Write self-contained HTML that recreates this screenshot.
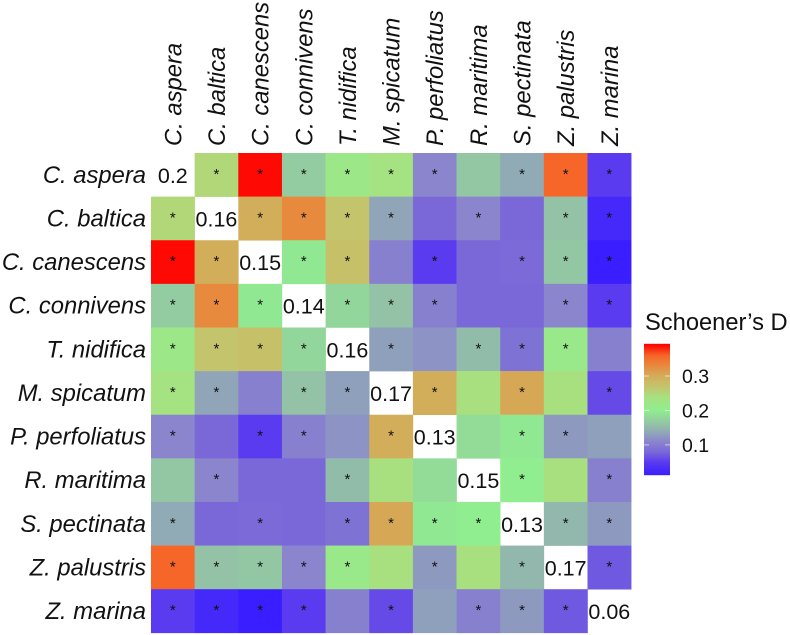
<!DOCTYPE html>
<html>
<head>
<meta charset="utf-8">
<style>
html,body{margin:0;padding:0;background:#fff;width:790px;height:635px;overflow:hidden}
svg{display:block}
text{font-family:"Liberation Sans",sans-serif;fill:#111}
</style>
</head>
<body>
<svg id="chart" width="790" height="635" viewBox="0 0 790 635" xmlns="http://www.w3.org/2000/svg">
<g id="cells"></g>
<g id="stars"></g>
<g id="diag"></g>
<g id="xlabels"></g>
<g id="ylabels"></g>
<text x="645" y="330" font-size="23.7">Schoener’s D</text>
<g id="legend"></g>
</svg>
<script>
const species = ["C. aspera","C. baltica","C. canescens","C. connivens","T. nidifica","M. spicatum","P. perfoliatus","R. maritima","S. pectinata","Z. palustris","Z. marina"];
const overlap = [
[0.2,0.25,0.39,0.17,0.22,0.235,0.11,0.165,0.14,0.36,0.05],
[0.25,0.16,0.30,0.33,0.27,0.135,0.08,0.11,0.08,0.16,0.025],
[0.39,0.30,0.15,0.195,0.275,0.105,0.05,0.08,0.082,0.165,0.0125],
[0.17,0.33,0.195,0.14,0.18,0.16,0.105,0.08,0.08,0.11,0.05],
[0.22,0.27,0.275,0.18,0.16,0.13,0.12,0.155,0.09,0.215,0.105],
[0.235,0.135,0.105,0.16,0.13,0.17,0.30,0.24,0.305,0.24,0.06],
[0.11,0.08,0.05,0.105,0.12,0.30,0.13,0.185,0.195,0.125,0.13],
[0.165,0.11,0.08,0.08,0.155,0.24,0.185,0.15,0.2,0.24,0.105],
[0.14,0.08,0.082,0.08,0.09,0.305,0.195,0.2,0.13,0.15,0.125],
[0.36,0.16,0.165,0.11,0.215,0.24,0.125,0.24,0.15,0.17,0.07],
[0.05,0.025,0.0125,0.05,0.105,0.06,0.13,0.105,0.125,0.07,0.06]
];
const significant = [
[0,1,1,1,1,1,1,0,1,1,1],
[1,0,1,1,1,1,0,1,0,1,1],
[1,1,0,1,1,0,1,0,1,1,1],
[1,1,1,0,1,1,1,0,0,1,1],
[1,1,1,1,0,1,0,1,1,1,0],
[1,1,0,1,1,0,1,0,1,0,1],
[1,0,1,1,0,1,0,0,1,1,0],
[0,1,0,0,1,0,0,0,1,0,1],
[1,0,1,0,1,1,1,1,0,1,1],
[1,1,1,1,1,0,1,0,1,0,1],
[1,1,1,1,0,1,0,1,1,1,0]
];
const legendTicks = [0.1,0.2,0.3];
const legendDomain = [0.0125,0.393];
const colorValues = [0.0125,0.05,0.08,0.11,0.13,0.16,0.18,0.2,0.24,0.27,0.30,0.33,0.36,0.393];
const colorHexes = ["#3a1eff","#5a3bf0","#7a68d9","#8a85cc","#8fa0bc","#93c2a6","#93d69b","#90ee90","#a8e080","#c4c46c","#d2ae5a","#e88a3e","#f56628","#ff0000"];

const SVGNS = "http://www.w3.org/2000/svg";
const gridLeft = 151, gridTop = 153, cellW = 43.65, cellH = 43.62;
const xScale = i => gridLeft + i * cellW;
const yScale = i => gridTop + i * cellH;
const legendTop = 344, legendBottom = 475, legendLeft = 644, legendRight = 670;
const legendY = v => legendBottom - (v - legendDomain[0]) / (legendDomain[1] - legendDomain[0]) * (legendBottom - legendTop);

function rgb(h){return [1,3,5].map(k => parseInt(h.substr(k,2),16));}
function colorFor(v){
  if (v <= colorValues[0]) return colorHexes[0];
  for (let k = 1; k < colorValues.length; k++) {
    if (v <= colorValues[k]) {
      const t = (v - colorValues[k-1]) / (colorValues[k] - colorValues[k-1]);
      const a = rgb(colorHexes[k-1]), b = rgb(colorHexes[k]);
      return "rgb(" + a.map((c,n) => Math.round(c + (b[n]-c)*t)).join(",") + ")";
    }
  }
  return colorHexes[colorHexes.length-1];
}
function make(tag, parent){
  const el = document.createElementNS(SVGNS, tag);
  document.getElementById(parent).appendChild(el);
  return el;
}

overlap.forEach((row, r) => {
  row.forEach((v, c) => {
    if (r === c) {
      const t = make("text", "diag");
      
      
      t.setAttribute("x", xScale(c) + cellW/2);
      t.setAttribute("y", yScale(r) + cellH/2 + 8);
      t.setAttribute("text-anchor", "middle");
      t.setAttribute("font-size", "21.5");
      t.textContent = String(v);
      return;
    }
    const rect = make("rect", "cells");
    
    
    rect.setAttribute("x", xScale(c));
    rect.setAttribute("y", yScale(r));
    rect.setAttribute("width", cellW + 0.3);
    rect.setAttribute("height", cellH + 0.3);
    rect.setAttribute("fill", colorFor(v));
    if (significant[r][c]) {
      const s = make("text", "stars");
      
      
      s.setAttribute("x", xScale(c) + cellW/2);
      s.setAttribute("y", yScale(r) + cellH/2 + 4);
      s.setAttribute("text-anchor", "middle");
      s.setAttribute("font-size", "15");
      s.textContent = "*";
    }
  });
});

species.forEach((name, i) => {
  const y = make("text", "ylabels");
  
  
  y.setAttribute("x", 146);
  y.setAttribute("y", yScale(i) + cellH/2 + 8);
  y.setAttribute("text-anchor", "end");
  y.setAttribute("font-size", "23.8");
  y.setAttribute("font-style", "italic");
  y.textContent = name;

  const x = make("text", "xlabels");
  
  
  const bx = xScale(i) + cellW/2 + 8.5;
  x.setAttribute("transform", "translate(" + bx + ",146) rotate(-90)");
  x.setAttribute("font-size", "23.8");
  x.setAttribute("font-style", "italic");
  x.textContent = name;
});

const legendSteps = 131;
for (let k = 0; k < legendSteps; k++) {
  const v = legendDomain[0] + (legendDomain[1]-legendDomain[0]) * (k + 0.5) / legendSteps;
  const b = make("rect", "legend");
  
  
  b.setAttribute("x", legendLeft);
  b.setAttribute("y", legendY(v) - (legendBottom-legendTop)/legendSteps/2 - 0.2);
  b.setAttribute("width", legendRight - legendLeft);
  b.setAttribute("height", (legendBottom-legendTop)/legendSteps + 0.4);
  b.setAttribute("fill", colorFor(v));
}
legendTicks.forEach(v => {
  [[legendLeft, legendLeft+5],[legendRight-5, legendRight]].forEach(ends => {
    const m = make("line", "legend");
    
    
    m.setAttribute("x1", ends[0]);
    m.setAttribute("x2", ends[1]);
    m.setAttribute("y1", legendY(v));
    m.setAttribute("y2", legendY(v));
    m.setAttribute("stroke", "#fff");
    m.setAttribute("stroke-opacity", "0.6");
    m.setAttribute("stroke-width", "1");
  });
  const t = make("text", "legend");
  
  
  t.setAttribute("x", 682);
  t.setAttribute("y", legendY(v) + 7);
  t.setAttribute("font-size", "19.5");
  t.textContent = v.toFixed(1);
});
</script>
</body>
</html>
